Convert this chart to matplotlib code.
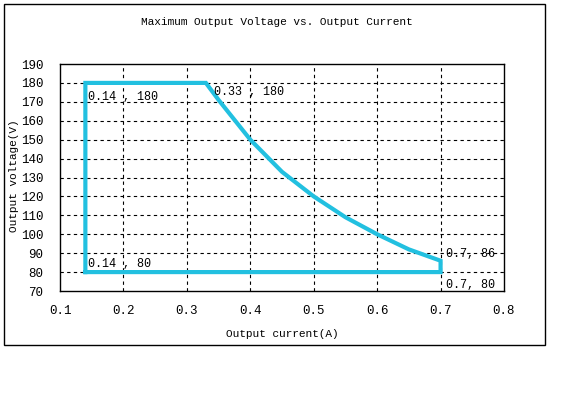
import matplotlib.pyplot as plt
from matplotlib.patches import Rectangle

# Boundary of the operating area (current in A, voltage in V)
current = [0.14, 0.14, 0.33, 0.35, 0.40, 0.45, 0.50, 0.55, 0.60, 0.65, 0.70, 0.70, 0.14]
voltage = [80, 180, 180, 171, 150, 133, 120, 109, 100, 92, 86, 80, 80]

# Corner labels
label_text = ['0.14 , 180', '0.33 , 180', '0.14 , 80', '0.7, 86', '0.7, 80']
label_x = [0.14, 0.33, 0.14, 0.70, 0.70]
label_y = [180, 180, 80, 86, 80]
label_dx = [0.004, 0.013, 0.004, 0.008, 0.008]
label_dy = [-7.5, -5, 4.5, 3.5, -7]

xticks = [0.1, 0.2, 0.3, 0.4, 0.5, 0.6, 0.7, 0.8]
yticks = list(range(70, 191, 10))

font = 'Liberation Mono'
line_color = '#22c0e0'

fig = plt.figure(figsize=(5.86, 3.97), dpi=100)
fig.patches.append(Rectangle((4 / 586, 1 - 345 / 397), 541 / 586, 341 / 397,
                             transform=fig.transFigure, fill=False,
                             edgecolor='black', linewidth=1))

ax = fig.add_axes([60 / 586, 1 - 291 / 397, 444 / 586, 227 / 397])
ax.plot(current, voltage, color=line_color, linewidth=3, solid_joinstyle='miter', zorder=3)

for t, x, y, dx, dy in zip(label_text, label_x, label_y, label_dx, label_dy):
    ax.text(x + dx, y + dy, t, fontsize=8.5, family=font, va='center', ha='left', zorder=4)

ax.set_xlim(0.1, 0.8)
ax.set_ylim(70, 190)
ax.set_xticks(xticks)
ax.set_yticks(yticks)
ax.set_xticklabels(['%g' % v for v in xticks], family=font, fontsize=9)
ax.set_yticklabels([str(v) for v in yticks], family=font, fontsize=9)
ax.tick_params(axis='x', length=0, pad=10)
ax.tick_params(axis='y', length=0, pad=12)

# dashed grid inside, not on the frame
for x in xticks[1:-1]:
    ax.axvline(x, color='black', linestyle=(0, (3, 3)), linewidth=0.8, zorder=1)
for y in yticks[1:-1]:
    ax.axhline(y, color='black', linestyle=(0, (3, 3)), linewidth=0.8, zorder=1)

for s in ax.spines.values():
    s.set_linewidth(1)

ax.set_xlabel('Output current(A)', family=font, fontsize=8, labelpad=9)
fig.text(14 / 586, 1 - 176 / 397, 'Output voltage(V)', family=font, fontsize=8,
         rotation=90, ha='center', va='center')
fig.text(277 / 586, 1 - 22 / 397, 'Maximum Output Voltage vs. Output Current',
         family=font, fontsize=8, ha='center', va='center')

fig.savefig('out.png', dpi=100)
